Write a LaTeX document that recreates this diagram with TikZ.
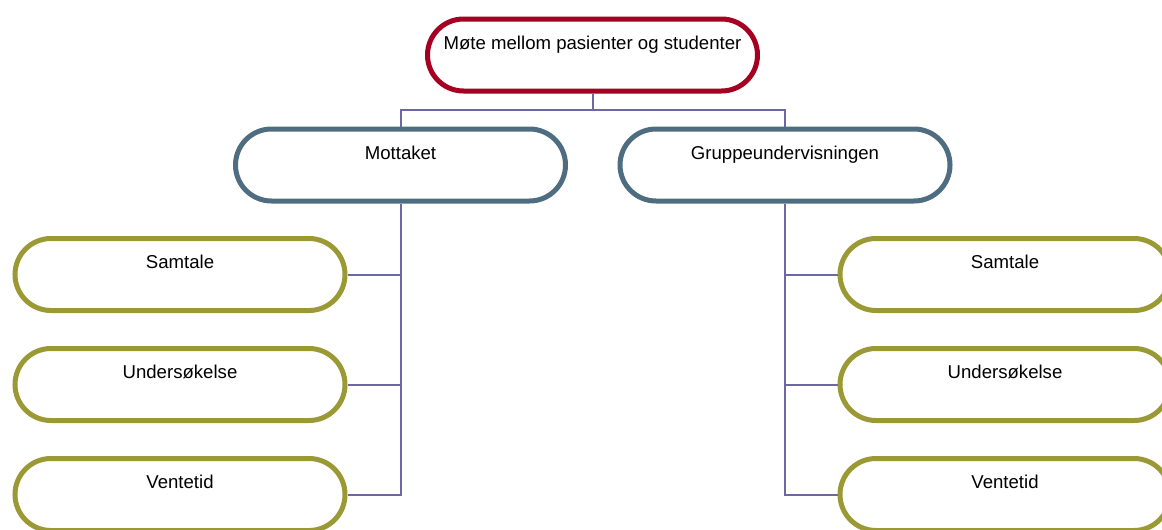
\documentclass[tikz,border=0pt]{standalone}
\usepackage{fontspec}
\setmainfont{Liberation Sans}
\usetikzlibrary{positioning}
\definecolor{topred}{HTML}{A50021}
\definecolor{midblue}{HTML}{4E6D80}
\definecolor{leafolive}{HTML}{9A9933}
\definecolor{linkblue}{HTML}{6C68A4}
\tikzset{
  box/.style={draw, line width=2.5pt, fill=white, rectangle, rounded corners=18pt,
    minimum width=165pt, minimum height=36pt, inner ysep=0pt,
    text height=15pt, text depth=21pt, font=\fontsize{9.3}{11}\selectfont},
  topbox/.style={box, draw=topred},
  midbox/.style={box, draw=midblue},
  leafbox/.style={box, draw=leafolive},
  link/.style={draw=linkblue, line width=1pt}
}
\begin{document}
\begin{tikzpicture}[x=0.5pt, y=-0.5pt]
    \useasboundingbox (0,0) rectangle (1162,530);
    % 1. boksene
    \node[topbox] (top) at (592.5,55) {Møte mellom pasienter og studenter};
    \node[midbox] (mot) at (400.5,165) {Mottaket};
    \node[midbox] (grp) at (785,165) {Gruppeundervisningen};

    \node[leafbox] (l1) at (180,274.5) {Samtale};
    \node[leafbox] (l2) at (180,384.5) {Undersøkelse};
    \node[leafbox] (l3) at (180,494.5) {Ventetid};

    \node[leafbox] (r1) at (1005,274.5) {Samtale};
    \node[leafbox] (r2) at (1005,384.5) {Undersøkelse};
    \node[leafbox] (r3) at (1005,494.5) {Ventetid};

    % 2. linjer
    \coordinate (split) at (592.5,110);
    \draw[link] (top.south) -- (split);
    \draw[link] (mot.north) |- (split) -| (grp.north);
    \foreach \i in {1,2,3} {
        \draw[link] (mot.south) |- (l\i.east);
        \draw[link] (grp.south) |- (r\i.west);
    }
\end{tikzpicture}
\end{document}
